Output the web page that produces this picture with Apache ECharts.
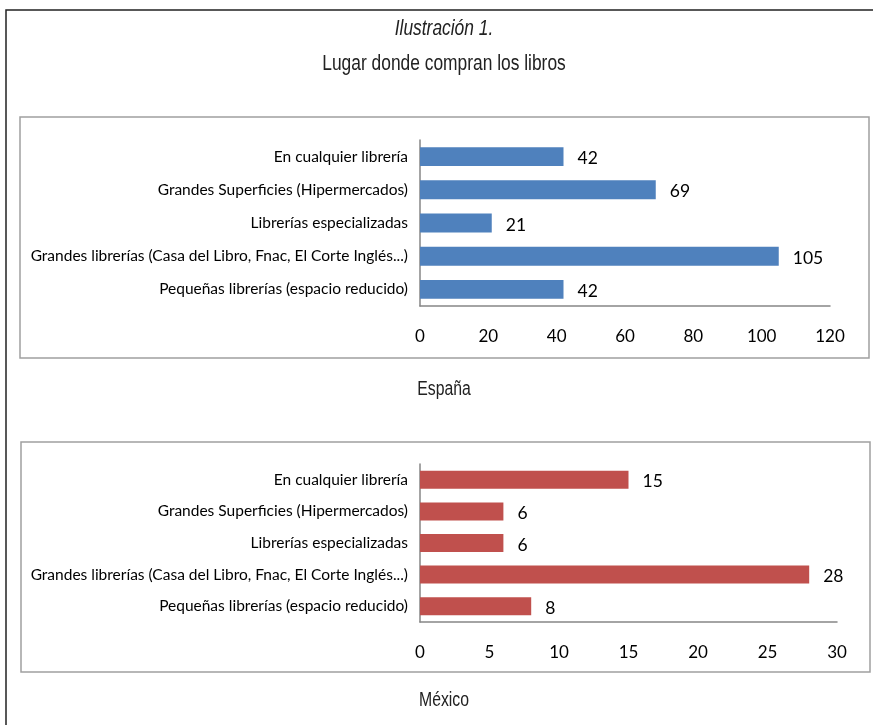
<!DOCTYPE html>
<html>
<head>
<meta charset="utf-8">
<script src="https://cdn.jsdelivr.net/npm/echarts@6/dist/echarts.min.js"></script>
<style>
  html, body { margin: 0; padding: 0; background: #fff; }
  #chart { width: 873px; height: 725px; }
</style>
</head>
<body>
<div id="chart"></div>
<script>
// Places where people buy books, by country
const categories = [
  'En cualquier librería',
  'Grandes Superficies (Hipermercados)',
  'Librerías especializadas',
  'Grandes librerías (Casa del Libro, Fnac, El Corte Inglés...)',
  'Pequeñas librerías (espacio reducido)'
];
const espanaValues = [42, 69, 21, 105, 42];
const mexicoValues = [15, 6, 6, 28, 8];
const espanaTicks = { min: 0, max: 120, interval: 20 };
const mexicoTicks = { min: 0, max: 30, interval: 5 };

const headFont = '"Liberation Sans", Arial, sans-serif';
const bodyFont = 'Lato, "Open Sans", sans-serif';
const axisGrey = '#868686';
const boxGrey = '#a0a0a0';
const inkColor = '#222';

const chart = echarts.init(document.getElementById('chart'), null, { renderer: 'canvas' });

// condensed heading text: regular sans squeezed horizontally around its centre
function narrowText(text, cx, cy, size, italic) {
  return {
    type: 'text', silent: true, x: cx, y: cy, scaleX: 0.79,
    style: {
      text: text, fontFamily: headFont, fontSize: size,
      fontStyle: italic ? 'italic' : 'normal',
      textAlign: 'center', textVerticalAlign: 'middle', fill: inkColor
    }
  };
}

function xAxisFor(gridIndex, ticks) {
  return {
    type: 'value', gridIndex: gridIndex,
    min: ticks.min, max: ticks.max, interval: ticks.interval,
    axisLine: { show: true, lineStyle: { color: axisGrey, width: 1.5 } },
    axisTick: { show: false },
    splitLine: { show: false },
    axisLabel: { color: '#000', fontFamily: bodyFont, fontSize: 17, margin: 22 }
  };
}
function yAxisFor(gridIndex) {
  return {
    type: 'category', gridIndex: gridIndex, data: categories, inverse: true,
    axisLine: { show: true, lineStyle: { color: axisGrey, width: 1.5 } },
    axisTick: { show: false },
    axisLabel: { color: '#000', fontFamily: bodyFont, fontSize: 15.5, margin: 12 }
  };
}
function barSeries(idx, values, color) {
  return {
    type: 'bar', xAxisIndex: idx, yAxisIndex: idx, data: values,
    barCategoryGap: '43%',
    itemStyle: { color: color },
    label: { show: true, position: 'right', distance: 14, offset: [0, 2],
      color: '#000', fontFamily: bodyFont, fontSize: 17.5 }
  };
}

chart.setOption({
  animation: false,
  backgroundColor: '#fff',
  graphic: [
    // outer frame (left and top edges)
    { type: 'polyline', silent: true, shape: { points: [[6, 725], [6, 10], [873, 10]] },
      style: { stroke: '#222', lineWidth: 1.5, fill: null } },
    // chart boxes
    { type: 'rect', silent: true, shape: { x: 20, y: 117, width: 849, height: 241 },
      style: { stroke: boxGrey, lineWidth: 1.5, fill: null } },
    { type: 'rect', silent: true, shape: { x: 21, y: 442, width: 849, height: 230 },
      style: { stroke: boxGrey, lineWidth: 1.5, fill: null } },
    // headings and captions
    narrowText('Ilustración 1.', 444, 29, 22, true),
    narrowText('Lugar donde compran los libros', 444, 64, 22, false),
    narrowText('España', 444, 389, 20, false),
    narrowText('México', 444, 700, 20, false)
  ],
  grid: [
    { left: 420, top: 140, width: 410, height: 166 },
    { left: 420, top: 464, width: 417, height: 158 }
  ],
  xAxis: [xAxisFor(0, espanaTicks), xAxisFor(1, mexicoTicks)],
  yAxis: [yAxisFor(0), yAxisFor(1)],
  series: [
    barSeries(0, espanaValues, '#4F81BD'),
    barSeries(1, mexicoValues, '#C0504D')
  ]
});
</script>
</body>
</html>
